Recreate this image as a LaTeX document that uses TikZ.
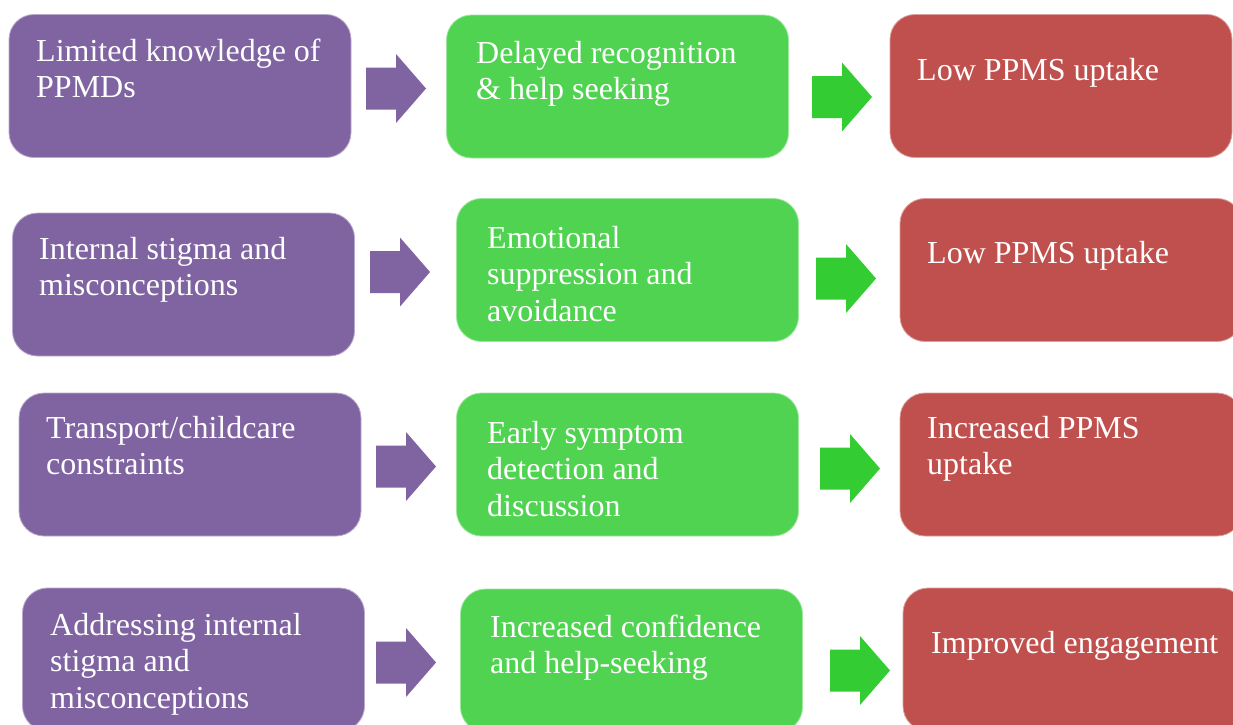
\documentclass[tikz,border=0pt]{standalone}
\usepackage{fontspec}
\setmainfont{Liberation Serif}

\definecolor{boxpurple}{HTML}{8064A2}
\definecolor{boxgreen}{HTML}{4FD350}
\definecolor{arrowgreen}{HTML}{33CC33}
\definecolor{boxred}{HTML}{C0504D}

\tikzset{
  card/.style={rounded corners=25pt, minimum width=342pt, minimum height=143pt,
    inner sep=0pt, line width=0.8pt},
  causebox/.style={card, fill=boxpurple, draw=boxpurple!55!white},
  effectbox/.style={card, fill=boxgreen, draw=boxgreen!55!white},
  outcomebox/.style={card, fill=boxred, draw=boxred!55!white},
  boxtext/.style={anchor=north west, inner sep=0pt, align=left, text=white,
    font=\fontsize{32}{36.5}\selectfont},
}

% strut fixing the height of a text block's first line
\newcommand\firstline{\rule{0pt}{25pt}}

% block arrow: name, tail x, centre y, colour
\newcommand\blockarrow[4]{%
  \coordinate (#1) at (#2,#3);
  \fill[#4] (#1) ++(0,-21) -- ++(30,0) -- ++(0,-13.5) -- ++(30,34.5)
    -- ++(-30,34.5) -- ++(0,-13.5) -- ++(-30,0) -- cycle;
}

\begin{document}
\begin{tikzpicture}[x=1pt, y=-1pt]
  \useasboundingbox (0,0) rectangle (1233,724);
  \fill[white] (0,0) rectangle (1233,724);
  \clip (0,0) rectangle (1233,724);

  % row 1
  \node[causebox]   (p1) at (180,86) {};
  \node[effectbox]  (g1) at (617.5,86.5) {};
  \node[outcomebox] (r1) at (1061,86) {};
  \node[boxtext] (tp1) at (36,36)  {\firstline Limited knowledge of\\PPMDs};
  \node[boxtext] (tg1) at (476,38) {\firstline Delayed recognition\\\& help seeking};
  \node[boxtext] (tr1) at (917,55) {\firstline Low PPMS uptake};
  \blockarrow{a1}{366}{88.5}{boxpurple}
  \blockarrow{b1}{812}{97}{arrowgreen}

  % row 2
  \node[causebox]   (p2) at (183.5,284.5) {};
  \node[effectbox]  (g2) at (627.5,270) {};
  \node[outcomebox] (r2) at (1071,270) {};
  \node[boxtext] (tp2) at (39,234)  {\firstline Internal stigma and\\misconceptions};
  \node[boxtext] (tg2) at (487,223) {\firstline Emotional\\suppression and\\avoidance};
  \node[boxtext] (tr2) at (927,238) {\firstline Low PPMS uptake};
  \blockarrow{a2}{370}{272}{boxpurple}
  \blockarrow{b2}{816}{278.5}{arrowgreen}

  % row 3
  \node[causebox]   (p3) at (190,464.5) {};
  \node[effectbox]  (g3) at (627.5,464.5) {};
  \node[outcomebox] (r3) at (1071,464.5) {};
  \node[boxtext] (tp3) at (46,413)  {\firstline Transport/childcare\\constraints};
  \node[boxtext] (tg3) at (487,418) {\firstline Early symptom\\detection and\\discussion};
  \node[boxtext] (tr3) at (927,413) {\firstline Increased PPMS\\uptake};
  \blockarrow{a3}{376}{466.5}{boxpurple}
  \blockarrow{b3}{820}{468.5}{arrowgreen}

  % row 4
  \node[causebox]   (p4) at (193.5,659.5) {};
  \node[effectbox]  (g4) at (631.5,660.5) {};
  \node[outcomebox] (r4) at (1074,659.5) {};
  \node[boxtext] (tp4) at (50,610)  {\firstline Addressing internal\\stigma and\\misconceptions};
  \node[boxtext] (tg4) at (490,612) {\firstline Increased confidence\\and help-seeking};
  \node[boxtext] (tr4) at (931,628) {\firstline Improved engagement};
  \blockarrow{a4}{376}{662.5}{boxpurple}
  \blockarrow{b4}{830}{670.5}{arrowgreen}
\end{tikzpicture}
\end{document}
